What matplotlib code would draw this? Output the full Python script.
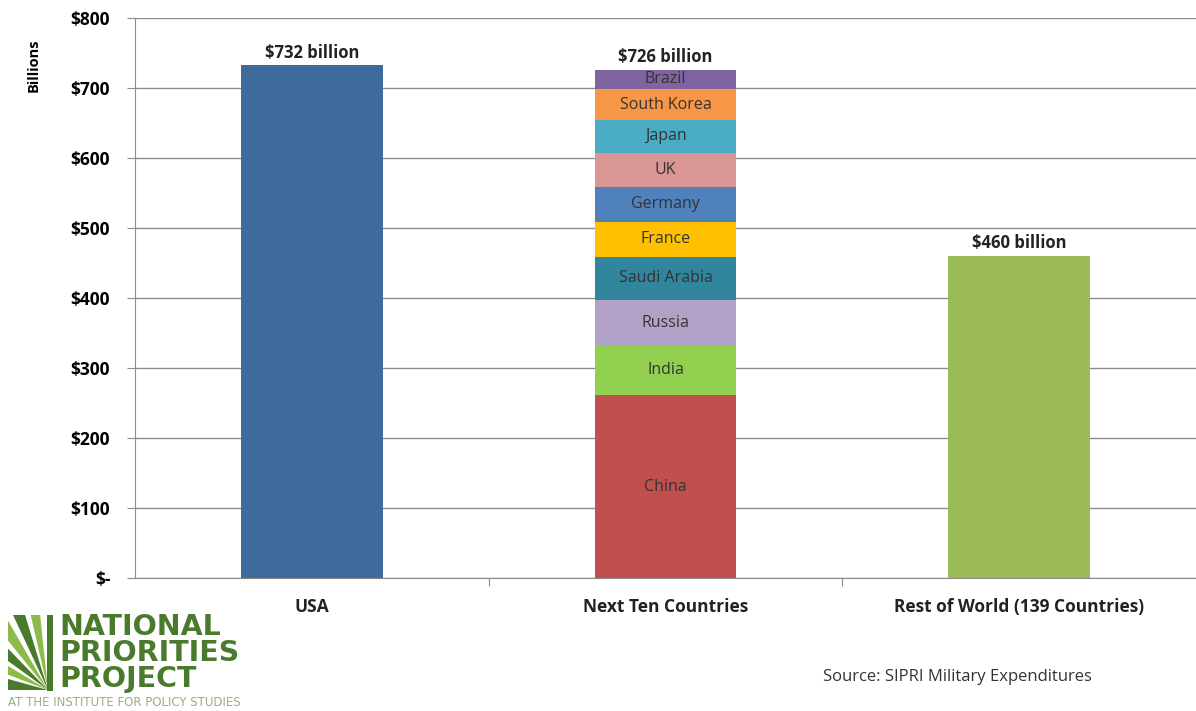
import matplotlib.pyplot as plt
import matplotlib.patches as mpatches
import numpy as np

plt.rcParams['font.family'] = ['Open Sans', 'DejaVu Sans']

# Data
categories = ["USA", "Next Ten Countries", "Rest of World (139 Countries)"]
usa = 732
rest_of_world = 460
countries = ["China", "India", "Russia", "Saudi Arabia", "France",
             "Germany", "UK", "Japan", "South Korea", "Brazil"]
spending = [261, 71, 65, 62, 50, 49, 49, 47, 44, 28]
seg_colors = ["#C0504D", "#92D050", "#B3A2C7", "#31859C", "#FFC000",
              "#4F81BD", "#D99694", "#4BACC6", "#F79646", "#8064A2"]
yticks = [0, 100, 200, 300, 400, 500, 600, 700, 800]
ytick_labels = ["$-", "$100", "$200", "$300", "$400", "$500", "$600", "$700", "$800"]

W, H = 1196, 711
fig = plt.figure(figsize=(W / 100, H / 100), dpi=100)
ax = fig.add_axes([0.113, 0.187, 0.887, 0.788])

x = np.arange(len(categories))
width = 0.4

ax.bar(x[0], usa, width, color="#3E6A9C")
ax.bar(x[2], rest_of_world, width, color="#9BBB59")

bottom = 0
for name, val, col in zip(countries, spending, seg_colors):
    ax.bar(x[1], val, width, bottom=bottom, color=col)
    ax.text(x[1], bottom + val / 2, name, ha='center', va='center',
            fontsize=11.5, color="#333333")
    bottom += val
next_ten = bottom

for xi, val in zip(x, [usa, next_ten, rest_of_world]):
    ax.text(xi, val + 5, f"${val} billion", ha='center', va='bottom',
            fontsize=12, fontweight='bold', color="#222222")

# axes styling
ax.set_xlim(-0.5, 2.5)
ax.set_ylim(0, 800)
ax.set_yticks(yticks)
ax.set_yticklabels(ytick_labels, fontsize=12.5, fontweight='bold')
ax.yaxis.grid(True, color="#8C8C8C", linewidth=1)
ax.set_axisbelow(True)
ax.set_xticks([0.5, 1.5])
ax.set_xticklabels([])
ax.tick_params(axis='x', length=6, color="#8C8C8C")
ax.tick_params(axis='y', length=6, color="#8C8C8C", pad=12)
for xi, lab in zip(x, categories):
    ax.text(xi, -42, lab, ha='center', va='center', fontsize=12.5,
            fontweight='bold', color="#222222")
for s in ["top", "right"]:
    ax.spines[s].set_visible(False)
ax.spines["left"].set_color("#8C8C8C")
ax.spines["bottom"].set_color("#8C8C8C")
ax.set_ylabel("Billions", fontsize=10.5, fontweight='bold')
ax.yaxis.set_label_coords(-0.089, 0.915)

# source note
fig.text(0.688, 0.048, "Source: SIPRI Military Expenditures", fontsize=12,
         color="#333333", va='center')

# logo (pixel coords from top-left)
def fx(px):
    return px / W

def fy(py):
    return 1 - py / H

green = "#4A7A2B"
light = "#8DBB4A"
ox, oy = 48, 690
left, top = 8, 615
wedges = [(0, 16, green), (21, 31, light), (36, 46, green),
          (51, 60, light), (65, 73, green), (77, 84, light)]
for a0, a1, col in wedges:
    pts = [(fx(ox), fy(oy))]
    for th in np.radians(np.linspace(a0, a1, 40)):
        c, s = np.cos(th), np.sin(th)
        t = min((ox - left) / c if c > 1e-6 else 1e9,
                (oy - top) / s if s > 1e-6 else 1e9)
        pts.append((fx(ox - t * c), fy(oy - t * s)))
    fig.add_artist(mpatches.Polygon(pts, closed=True, transform=fig.transFigure,
                                    color=col, lw=0))
fig.add_artist(mpatches.Rectangle((fx(47), fy(691)), fx(6), 76 / H,
                                  transform=fig.transFigure, color=green, lw=0))
fig.text(fx(59), fy(653), "NATIONAL\nPRIORITIES\nPROJECT", fontsize=20.5,
         fontweight='heavy', family='DejaVu Sans', color=green,
         va='center', ha='left', linespacing=0.92)
fig.text(fx(8), fy(702), "AT THE INSTITUTE FOR POLICY STUDIES", fontsize=8.5,
         family='DejaVu Sans', color="#9BB07A", va='center', ha='left')

fig.savefig("out.png", dpi=100)
